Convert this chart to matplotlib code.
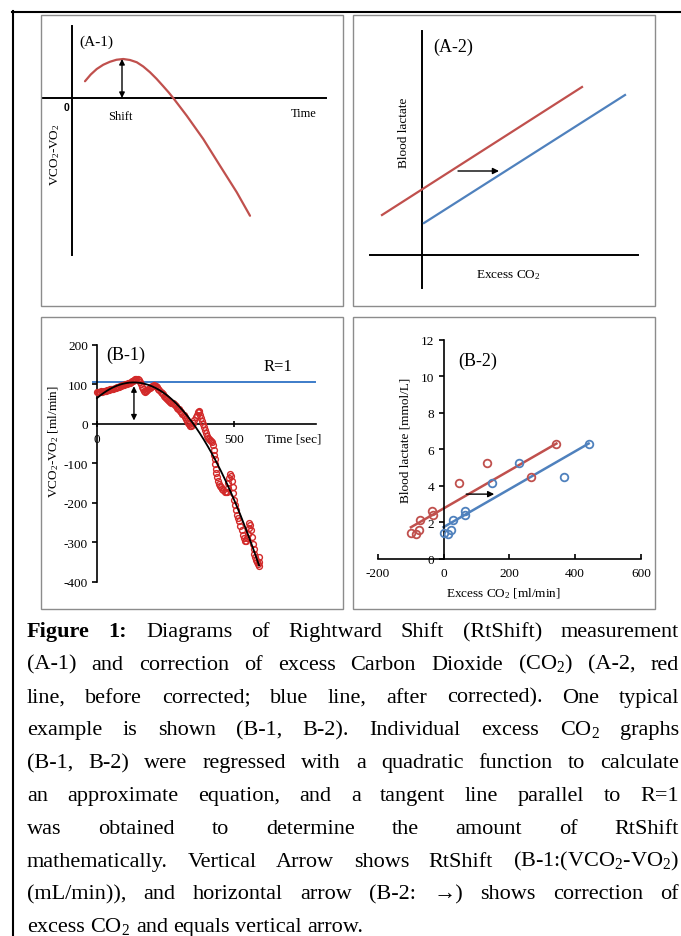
import numpy as np
import matplotlib
matplotlib.use('Agg')
import matplotlib.pyplot as plt
from matplotlib.lines import Line2D
from matplotlib.patches import Rectangle

plt.rcParams['font.family'] = ['Liberation Serif', 'DejaVu Serif']
plt.rcParams['mathtext.fontset'] = 'custom'
plt.rcParams['mathtext.rm'] = 'Liberation Serif'
plt.rcParams['mathtext.it'] = 'Liberation Serif:italic'
plt.rcParams['mathtext.default'] = 'regular'
plt.rcParams['axes.unicode_minus'] = False

RED = '#c0504d'
BLUE = '#4f81bd'
DOTRED = '#d22a2a'
FRAME = '#8c8c8c'

# ---------------- data ----------------
# (A-1) schematic VCO2-VO2 curve (arbitrary units)
a1_time = [0.52, 0.75, 0.99, 1.25, 1.52, 1.78, 2.05, 2.32, 2.59, 2.85, 3.12, 3.38, 3.65, 3.87,
           4.08, 4.59, 5.25, 5.92, 6.59, 7.12]
a1_diff = [0.67, 0.94, 1.16, 1.33, 1.45, 1.53, 1.56, 1.52, 1.43, 1.26, 1.03, 0.77, 0.47, 0.22,
           -0.04, -0.71, -1.64, -2.71, -3.77, -4.71]
a1_shift = 1.56

# (A-2) schematic lines (arbitrary units)
a2_x_before = [-1.6, 6.4]
a2_y_before = [1.6, 6.72]
a2_x_after = [0.08, 8.12]
a2_y_after = [1.28, 6.4]

# (B-1) VCO2-VO2 [ml/min] vs time [sec]
b1_time = [0, 4, 8, 12, 16, 20, 24, 28, 32, 36, 40, 44, 48, 52, 56, 60, 64, 68, 72, 76,
           80, 84, 88, 92, 96, 100, 104, 108, 112, 116, 120, 124, 128, 132, 136, 140, 144, 148, 152, 156,
           160, 164, 168, 172, 176, 180, 184, 188, 192, 196, 200, 204, 208, 212, 216, 220, 224, 228, 232, 236,
           240, 244, 248, 252, 256, 260, 264, 268, 272, 276, 280, 284, 288, 292, 296, 300, 304, 308, 312, 316,
           320, 324, 328, 332, 336, 340, 344, 348, 352, 356, 360, 364, 368,
           371, 374, 377, 380, 383, 386,
           390, 394, 398, 402, 406, 410, 414, 418,
           421,
           424, 426, 428, 430, 432, 434, 436,
           439, 442,
           446, 450, 454, 458, 462, 466, 470, 474,
           477, 480, 483, 486, 489, 492, 495, 498, 501, 504,
           508, 512, 516, 520, 524, 528, 532, 536, 540, 544, 548,
           551, 554, 557, 560, 563, 566, 569, 572, 575, 578, 581, 584, 587, 590,
           592, 591]
b1_diff = [80, 79, 81, 80, 82, 81, 83, 82, 84, 85, 85, 86, 87, 88, 88, 89, 90, 91, 92, 93,
           94, 95, 96, 97, 98, 99, 100, 101, 102, 103, 104, 105, 107, 109, 111, 113, 113, 112, 110, 106,
           100, 93, 87, 83, 81, 82, 85, 88, 91, 93, 95, 96, 97, 96, 95, 92, 88, 85, 81, 77,
           74, 71, 68, 65, 62, 60, 57, 55, 53, 52, 50, 47, 44, 41, 38, 36, 33, 29, 25, 21,
           17, 13, 8, 3, -2, -5, -7, -4, 2, 9, 16, 23, 29,
           33, 30, 23, 15, 7, -1,
           -9, -17, -24, -30, -35, -39, -42, -45,
           -47,
           -55, -66, -78, -90, -102, -114, -125,
           -136, -145,
           -152, -157, -161, -165, -169, -172, -174, -172,
           -163, -150, -138, -128, -132, -145, -160, -176, -192, -206,
           -219, -230, -239, -247, -258, -270, -281, -290, -296, -297, -290,
           -278, -264, -252, -257, -270, -287, -304, -318, -330, -338, -344, -350, -356, -360,
           -350, -338]
r1_level = 105
b1_rtshift = [8, 95]
b1_rtshift_time = 135

# (B-2) blood lactate [mmol/L] vs excess CO2 [ml/min]
b2_excess_before = [-99, -83, -75, -71, -34, -32, 47, 133, 267, 343]
b2_excess_after = [0, 15, 22, 28, 65, 66, 147, 230, 365, 441]
b2_lactate = [1.40, 1.36, 1.60, 2.13, 2.62, 2.40, 4.18, 5.27, 4.51, 6.27]
b2_arrow_x = [69, 154]
b2_arrow_y = 3.55

caption = [
    "Figure 1: Diagrams of Rightward Shift (RtShift) measurement",
    "(A-1) and correction of excess Carbon Dioxide (CO$_2$) (A-2, red",
    "line, before corrected; blue line, after corrected). One typical",
    "example is shown (B-1, B-2). Individual excess CO$_2$ graphs",
    "(B-1, B-2) were regressed with a quadratic function to calculate",
    "an approximate equation, and a tangent line parallel to R=1",
    "was obtained to determine the amount of RtShift",
    "mathematically. Vertical Arrow shows RtShift (B-1:(VCO$_2$-VO$_2$)",
    "(mL/min)), and horizontal arrow (B-2: \u2192) shows correction of",
    "excess CO$_2$ and equals vertical arrow.",
]

# ---------------- figure ----------------
W, H = 681, 937
fig = plt.figure(figsize=(W / 100, H / 100), dpi=100)


def rect(x0, y0, x1, y1):
    return [x0 / W, 1 - y1 / H, (x1 - x0) / W, (y1 - y0) / H]


def ftext(x, y, s, **kw):
    kw.setdefault('ha', 'center')
    kw.setdefault('va', 'center')
    return fig.text(x / W, 1 - y / H, s, **kw)


# outer frame and panel boxes
fig.add_artist(Line2D([12 / W, 1], [1 - 12.5 / H] * 2, color='k', lw=1.5, transform=fig.transFigure))
fig.add_artist(Line2D([12.5 / W] * 2, [1 - 12 / H, 0], color='k', lw=1.5, transform=fig.transFigure))
for b in [(41, 16, 343, 307), (353, 16, 655, 307), (41, 318, 343, 610), (353, 318, 655, 610)]:
    l, bt, w, h = rect(*b)
    fig.add_artist(Rectangle((l, bt), w, h, fill=False, ec=FRAME, lw=1.0, transform=fig.transFigure))

# ---- (A-1) ----
ax = fig.add_axes(rect(41, 16, 343, 307))
ax.set_xlim(-1.24, 10.84)
ax.set_ylim(-8.32, 3.32)
ax.axis('off')
ax.plot([-1.2, 10.16], [0, 0], color='k', lw=1.4)
ax.plot([0, 0], [2.88, -6.28], color='k', lw=1.4)
ax.plot(a1_time, a1_diff, color=RED, lw=1.6, solid_capstyle='round', solid_joinstyle='round')
ax.annotate('', xy=(2.0, a1_shift), xytext=(2.0, 0),
            arrowprops=dict(arrowstyle='<|-|>', color='k', lw=1.0, shrinkA=0, shrinkB=0, mutation_scale=8))
ftext(96, 42, '(A-1)', fontsize=11)
ftext(66, 108, '0', fontsize=7.5, family='Liberation Sans', weight='bold')
ftext(120, 117, 'Shift', fontsize=9)
ftext(304, 114, 'Time', fontsize=9)
ftext(55, 155, 'VCO$_2$-VO$_2$', fontsize=9.5, rotation=90)

# ---- (A-2) ----
ax = fig.add_axes(rect(353, 16, 655, 307))
ax.set_xlim(-2.76, 9.32)
ax.set_ylim(-2.04, 9.6)
ax.axis('off')
ax.plot([-2.08, 8.64], [0, 0], color='k', lw=1.4)
ax.plot([0, 0], [8.96, -1.32], color='k', lw=1.4)
ax.plot(a2_x_before, a2_y_before, color=RED, lw=1.6)
ax.plot(a2_x_after, a2_y_after, color=BLUE, lw=1.6)
ax.annotate('', xy=(3.08, 3.36), xytext=(1.44, 3.36),
            arrowprops=dict(arrowstyle='-|>', color='k', lw=1.0, shrinkA=0, shrinkB=0, mutation_scale=9))
ftext(453, 47, '(A-2)', fontsize=13)
ftext(404, 133, 'Blood lactate', fontsize=9.5, rotation=90)
ftext(508, 275, 'Excess CO$_2$', fontsize=9.5)

# ---- (B-1) ----
ax = fig.add_axes(rect(97, 345.7, 316, 582.7))
ax.patch.set_visible(False)
ax.set_xlim(0, 800)
ax.set_ylim(-400, 200)
for s in ['top', 'right']:
    ax.spines[s].set_visible(False)
ax.spines['bottom'].set_position(('data', 0))
for s in ['left', 'bottom']:
    ax.spines[s].set_linewidth(1.2)
ax.set_yticks(np.arange(-400, 201, 100))
ax.set_xticks([0, 500])
ax.tick_params(axis='y', direction='out', length=3.5, width=1.2, pad=3, labelsize=9.5)
ax.tick_params(axis='x', direction='inout', length=5, width=1.2, pad=4, labelsize=9.5)
ax.plot(b1_time, b1_diff, linestyle='none', marker='o', ms=4.2, mfc='none', mec=DOTRED, mew=1.0,
        clip_on=False, zorder=3)
coef = np.polyfit(b1_time, b1_diff, 2)
tt = np.linspace(0, max(b1_time), 200)
ax.plot(tt, np.polyval(coef, tt), color='k', lw=1.3, zorder=4, clip_on=False)
ax.plot([-15, 796], [r1_level, r1_level], color='#3d7cc9', lw=1.4, zorder=2, clip_on=False)
ax.annotate('', xy=(b1_rtshift_time, b1_rtshift[1]), xytext=(b1_rtshift_time, b1_rtshift[0]),
            arrowprops=dict(arrowstyle='<|-|>', color='k', lw=1.0, shrinkA=0, shrinkB=0, mutation_scale=8),
            zorder=5)
ftext(126, 355, '(B-1)', fontsize=13)
ftext(278, 367, 'R=1', fontsize=12)
ftext(293, 440, 'Time [sec]', fontsize=9.5)
ftext(54, 442, 'VCO$_2$-VO$_2$ [ml/min]', fontsize=9.5, rotation=90)

# ---- (B-2) ----
ax = fig.add_axes(rect(377.7, 340.7, 641, 560))
ax.patch.set_visible(False)
ax.set_xlim(-200, 600)
ax.set_ylim(0, 12)
for s in ['top', 'right']:
    ax.spines[s].set_visible(False)
ax.spines['left'].set_position(('data', 0))
for s in ['left', 'bottom']:
    ax.spines[s].set_linewidth(1.2)
ax.set_yticks(np.arange(0, 13, 2))
ax.set_xticks(np.arange(-200, 601, 200))
ax.tick_params(axis='y', direction='out', length=3.5, width=1.2, pad=3, labelsize=9.5)
ax.tick_params(axis='x', direction='in', length=3.5, width=1.2, pad=6, labelsize=9.5)
for xs, col in [(b2_excess_before, RED), (b2_excess_after, BLUE)]:
    ax.plot(xs, b2_lactate, linestyle='none', marker='o', ms=5.5, mfc='none', mec=col, mew=1.3,
            clip_on=False, zorder=3)
    k, c0 = np.polyfit(xs, b2_lactate, 1)
    xl = np.array([min(xs), max(xs)])
    ax.plot(xl, k * xl + c0, color=col, lw=1.8, zorder=2)
ax.annotate('', xy=(b2_arrow_x[1], b2_arrow_y), xytext=(b2_arrow_x[0], b2_arrow_y),
            arrowprops=dict(arrowstyle='-|>', color='k', lw=1.0, shrinkA=0, shrinkB=0, mutation_scale=9),
            zorder=5)
ftext(478, 361, '(B-2)', fontsize=13)
ftext(405, 440, 'Blood lactate [mmol/L]', fontsize=9.5, rotation=90)
ftext(503, 594, 'Excess CO$_2$ [ml/min]', fontsize=9.5)

# ---- caption, justified ----
CAP_FS = 16
CAP_LEFT, CAP_RIGHT = 27, 679
CAP_TOP, CAP_STEP = 637, 32.8
renderer = fig.canvas.get_renderer()
space_w = 0.25 * CAP_FS * 100 / 72
for i, line in enumerate(caption):
    words = line.split(' ')
    y = 1 - (CAP_TOP + i * CAP_STEP) / H
    texts = []
    for j, w in enumerate(words):
        bold = (i == 0 and j < 2)
        texts.append(fig.text(0, y, w, fontsize=CAP_FS, weight='bold' if bold else 'normal',
                              ha='left', va='baseline'))
    widths = [t.get_window_extent(renderer).width for t in texts]
    if i < len(caption) - 1 and len(words) > 1:
        gap = (CAP_RIGHT - CAP_LEFT - sum(widths)) / (len(words) - 1)
    else:
        gap = space_w
    x = CAP_LEFT
    for t, w in zip(texts, widths):
        t.set_x(x / W)
        x += w + gap

fig.savefig('out.png', dpi=100)
